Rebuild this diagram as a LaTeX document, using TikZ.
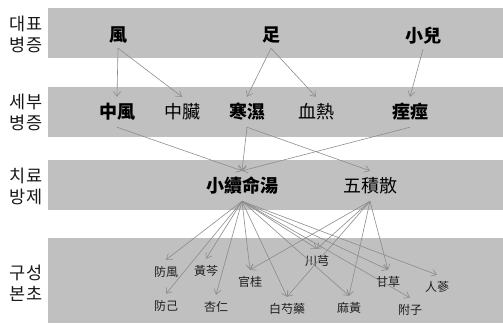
\documentclass[tikz,border=0pt]{standalone}
\usepackage{fontspec}
\newfontfamily\krfont{Noto Sans CJK KR}
\newfontfamily\tcfont{Noto Sans CJK TC}
\usetikzlibrary{arrows.meta}
\definecolor{bandgray}{RGB}{192,192,192}
\definecolor{linegray}{RGB}{140,140,140}
\definecolor{herbtext}{RGB}{30,30,30}
\begin{document}
\begin{tikzpicture}[x=1pt,y=-1pt,
  band/.style={fill=bandgray,draw=none},
  rowlabel/.style={font=\krfont\fontsize{17.5}{21}\selectfont,align=center,inner sep=0pt,text=black!90},
  topbold/.style={font=\tcfont\bfseries\fontsize{18}{18}\selectfont,inner sep=0pt,minimum height=26pt},
  midbold/.style={font=\tcfont\bfseries\fontsize{18}{18}\selectfont,inner sep=0pt,minimum height=30pt},
  midplain/.style={font=\tcfont\fontsize{18}{18}\selectfont,inner sep=0pt,minimum height=30pt},
  herb/.style={font=\tcfont\fontsize{12}{12}\selectfont,text=herbtext,inner sep=0pt,minimum height=24pt},
  link/.style={draw=linegray,line width=0.6pt,-{Straight Barb[length=5pt,width=7pt]}}
]
\useasboundingbox (0,0) rectangle (503,324);
% bands
\fill[band] (48,8) rectangle (503,58);
\fill[band] (48,87) rectangle (503,137);
\fill[band] (48,160) rectangle (503,210);
\fill[band] (48,238) rectangle (503,323);
% row labels
\node[rowlabel] (r1) at (26,34) {대표\\병증};
\node[rowlabel] (r2) at (26,112) {세부\\병증};
\node[rowlabel] (r3) at (26,186) {치료\\방제};
\node[rowlabel] (r4) at (26,283) {구성\\본초};
% band 1
\node[topbold] (f1) at (118,35) {風};
\node[topbold] (f2) at (271,35) {足};
\node[topbold] (f3) at (423,36) {小兒};
% band 2
\node[midbold] (d1) at (117,112) {中風};
\node[midplain] (d2) at (182,112) {中臟};
\node[midbold] (d3) at (247,112) {寒濕};
\node[midplain] (d4) at (316,112) {血熱};
\node[midbold] (d5) at (410,112) {痓痙};
% band 3
\node[midbold] (t1) at (242,186) {小續命湯};
\node[midplain] (t2) at (370,186) {五積散};
% band 4
\node[herb] (h1) at (166,272) {防風};
\node[herb] (h2) at (206,271) {黃芩};
\node[herb] (h3) at (250,282) {官桂};
\node[herb] (h4) at (166,306) {防己};
\node[herb] (h5) at (216,307) {杏仁};
\node[herb] (h6) at (317,261) {川芎};
\node[herb] (h7) at (388,282) {甘草};
\node[herb] (h8) at (437,287) {人蔘};
\node[herb] (h9) at (287,309) {白芍藥};
\node[herb] (h10) at (349,308) {麻黃};
\node[herb] (h11) at (410,310) {附子};
% band 1 -> band 2
\draw[link] (f1.south) -- (d1.north);
\draw[link] (f1.south) -- (d2.north);
\draw[link] (f2.south) -- (d3.north);
\draw[link] (f2.south) -- (d4.north);
\draw[link] (f3.south) -- (d5.north);
% band 2 -> band 3
\draw[link] (d1.south) -- (t1.north);
\draw[link] (d3.south) -- (t1.north);
\draw[link] (d3.south) -- (t2.north);
\draw[link] (d5.south) -- (t1.north);
% band 3 -> band 4
\foreach \h in {h1,h2,h3,h4,h5,h6,h7,h8,h9,h10,h11}
  \draw[link] (t1.south) -- (\h.north);
\foreach \h in {h3,h6,h7,h9,h10}
  \draw[link] (t2.south) -- (\h.north);
\end{tikzpicture}
\end{document}
